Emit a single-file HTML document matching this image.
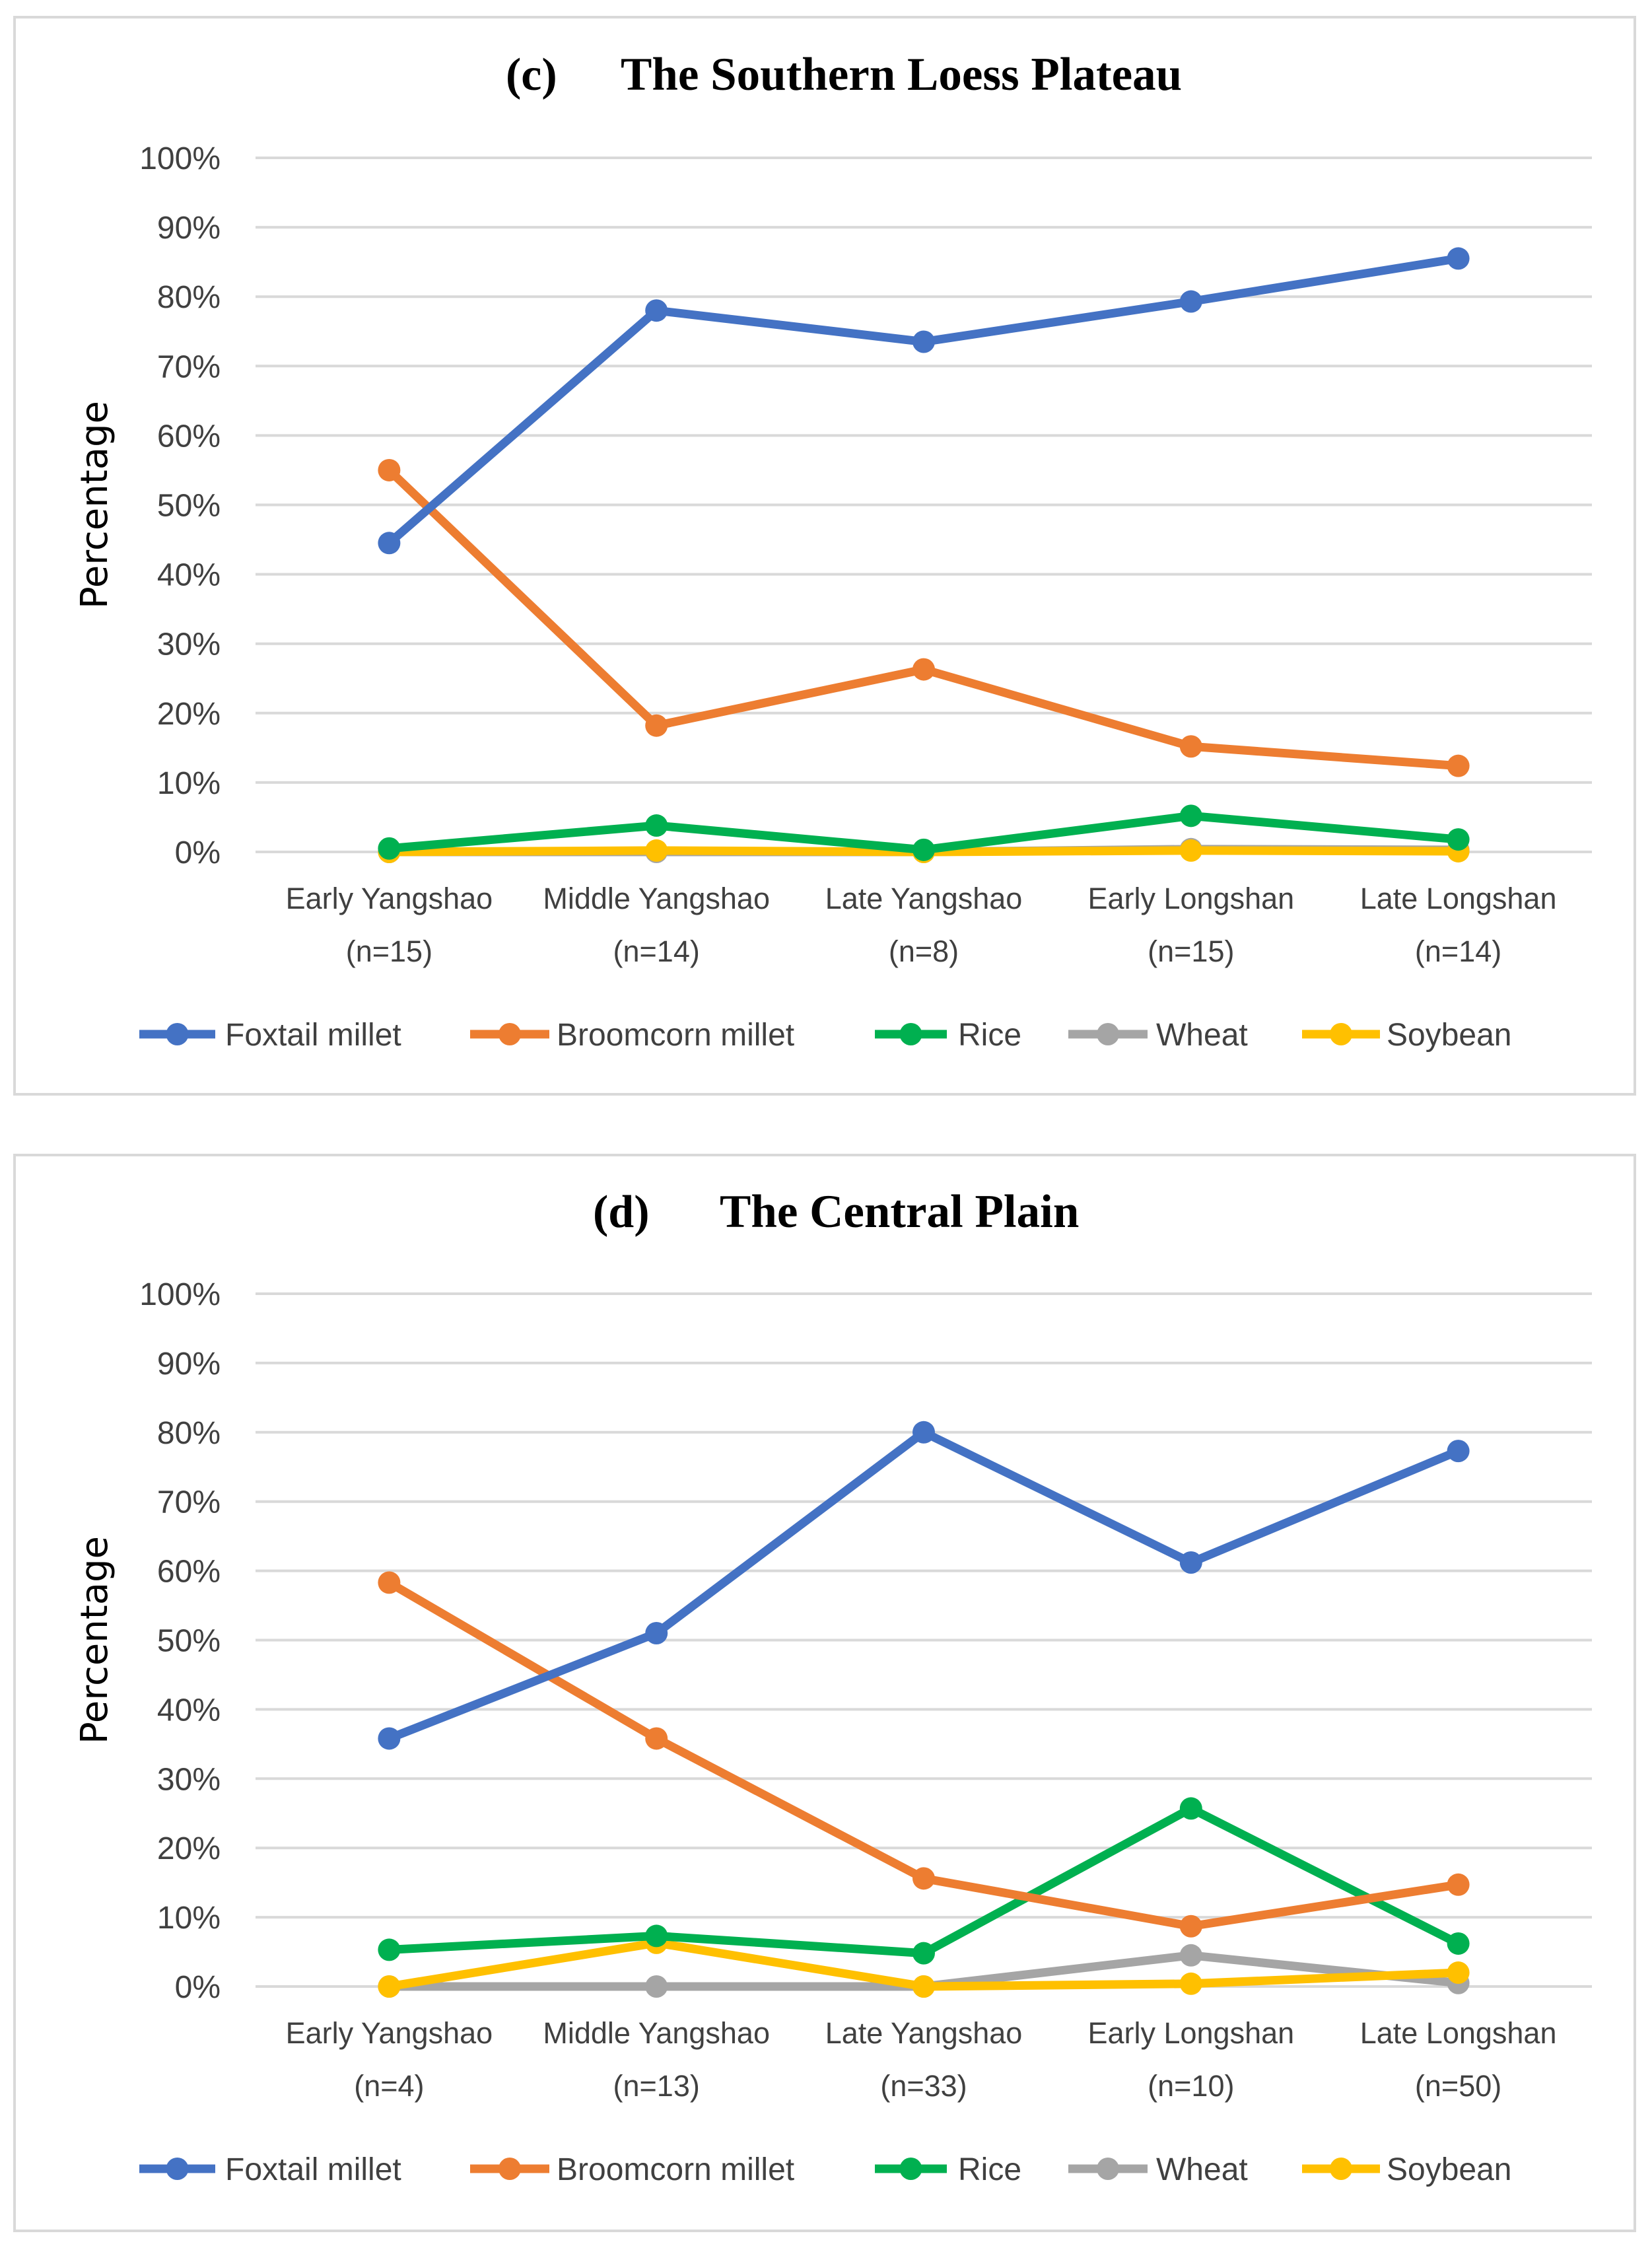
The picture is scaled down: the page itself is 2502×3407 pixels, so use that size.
<!DOCTYPE html>
<html><head><meta charset="utf-8"><style>
html,body{margin:0;padding:0;background:#fff}
svg{display:block}
text{font-family:"Liberation Sans",sans-serif;fill:#404040}
</style></head><body>
<svg id="s" width="2502" height="3407" viewBox="0 0 2502 3407" xmlns="http://www.w3.org/2000/svg"></svg>
<script>
const categories=["Early Yangshao","Middle Yangshao","Late Yangshao","Early Longshan","Late Longshan"];
const nC=["(n=15)","(n=14)","(n=8)","(n=15)","(n=14)"];
const nD=["(n=4)","(n=13)","(n=33)","(n=10)","(n=50)"];
const yTicks=[0,10,20,30,40,50,60,70,80,90,100];
const seriesNames=["Foxtail millet","Broomcorn millet","Rice","Wheat","Soybean"];
const seriesColors=["#4472c4","#ed7d31","#00b050","#a5a5a5","#ffc000"];
const cFoxtail=[44.5,78,73.5,79.3,85.5];
const cBroomcorn=[55,18.2,26.3,15.2,12.4];
const cRice=[0.5,3.8,0.3,5.2,1.8];
const cWheat=[0,0,0,0.4,0.3];
const cSoybean=[0,0.2,0,0.2,0.1];
const dFoxtail=[35.8,51,80,61.2,77.3];
const dBroomcorn=[58.3,35.8,15.6,8.7,14.7];
const dRice=[5.3,7.3,4.8,25.7,6.2];
const dWheat=[0,0,0,4.5,0.5];
const dSoybean=[0,6.3,0,0.4,2];

const svg=document.getElementById('s');
const NS='http://www.w3.org/2000/svg';
function mk(tag,attrs,parent,txt){const e=document.createElementNS(NS,tag);for(const k in attrs)e.setAttribute(k,attrs[k]);if(txt!==undefined)e.textContent=txt;parent.appendChild(e);return e;}

function chart(cfg){
  const g=mk('g',{},svg);
  
  
  const box=mk('rect',{x:22,y:cfg.boxTop,width:2454,height:cfg.boxH,fill:'#fff',stroke:'#d9d9d9','stroke-width':4},g);
  
  
  const tl=mk('text',{x:cfg.labX,y:cfg.titleY,'font-size':70,'font-weight':'bold',style:'font-family:"Liberation Serif",serif;fill:#000'},g,cfg.lab);
  
  
  const t=mk('text',{x:cfg.titleX,y:cfg.titleY,'font-size':71,'font-weight':'bold',style:'font-family:"Liberation Serif",serif;fill:#000'},g,cfg.title);
  
  
  const x0=387,x1=2411,step=(x1-x0)/categories.length;
  const xs=i=>x0+step*(i+0.5);
  const ys=v=>cfg.y0-(cfg.y0-cfg.y100)*v/100;
  yTicks.forEach(v=>{
    const l=mk('line',{x1:x0,x2:x1,y1:ys(v),y2:ys(v),stroke:'#d9d9d9','stroke-width':4},g);
    
    
    const tx=mk('text',{x:334,y:ys(v)+17,'text-anchor':'end','font-size':48},g,v+'%');
    
    
  });
  const yt=mk('text',{x:0,y:0,'text-anchor':'middle','font-size':56,transform:`translate(162,${(cfg.y0+cfg.y100)/2}) rotate(-90)`,style:'font-family:"DejaVu Sans",sans-serif;fill:#000'},g,'Percentage');
  
  
  categories.forEach((c,i)=>{
    const a=mk('text',{x:xs(i),y:cfg.y0+86,'text-anchor':'middle','font-size':45},g,c);
    
    
    const b=mk('text',{x:xs(i),y:cfg.y0+166,'text-anchor':'middle','font-size':45},g,cfg.n[i]);
    
    
  });
  const order=[3,4,2,1,0];
  order.forEach(si=>{
    const vals=cfg.series[si];
    const pl=mk('polyline',{points:vals.map((v,i)=>xs(i)+','+ys(v)).join(' '),fill:'none',stroke:seriesColors[si],'stroke-width':13,'stroke-linejoin':'round'},g);
    
    
    vals.forEach((v,i)=>{
      const c=mk('circle',{cx:xs(i),cy:ys(v),r:17,fill:seriesColors[si]},g);
      
      
    });
  });
  const lx=[[211,326,341],[712,832,843],[1325,1434,1451],[1618,1738,1751],[1972,2090,2100]];
  seriesNames.forEach((nm,si)=>{
    const lg=mk('g',{},g);
    
    
    mk('line',{x1:lx[si][0],x2:lx[si][1],y1:cfg.legY,y2:cfg.legY,stroke:seriesColors[si],'stroke-width':13},lg);
    mk('circle',{cx:(lx[si][0]+lx[si][1])/2,cy:cfg.legY,r:17,fill:seriesColors[si]},lg);
    mk('text',{x:lx[si][2],y:cfg.legY+17,'font-size':48},lg,nm);
  });
}
chart({name:'chart-southern-loess-plateau',boxTop:26,boxH:1631,lab:'(c)',labX:766,title:'The Southern Loess Plateau',titleX:940,titleY:136,y100:239,y0:1290,n:nC,legY:1566,
  series:[cFoxtail,cBroomcorn,cRice,cWheat,cSoybean]});
chart({name:'chart-central-plain',boxTop:1749,boxH:1629,lab:'(d)',labX:898,title:'The Central Plain',titleX:1090,titleY:1858,y100:1959,y0:3008,n:nD,legY:3284,
  series:[dFoxtail,dBroomcorn,dRice,dWheat,dSoybean]});
</script>
</body></html>
